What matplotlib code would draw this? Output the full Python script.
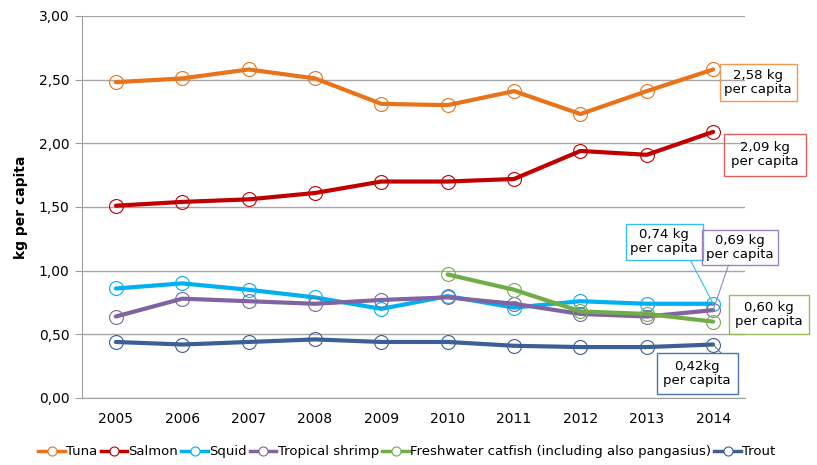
import matplotlib
matplotlib.use("Agg")
import matplotlib.pyplot as plt
from matplotlib.lines import Line2D

years = [2005, 2006, 2007, 2008, 2009, 2010, 2011, 2012, 2013, 2014]
tuna = [2.48, 2.51, 2.58, 2.51, 2.31, 2.30, 2.41, 2.23, 2.41, 2.58]
salmon = [1.51, 1.54, 1.56, 1.61, 1.70, 1.70, 1.72, 1.94, 1.91, 2.09]
squid = [0.86, 0.90, 0.85, 0.79, 0.70, 0.80, 0.71, 0.76, 0.74, 0.74]
shrimp = [0.64, 0.78, 0.76, 0.74, 0.77, 0.79, 0.74, 0.66, 0.64, 0.69]
catfish_years = [2010, 2011, 2012, 2013, 2014]
catfish = [0.97, 0.85, 0.68, 0.66, 0.60]
trout = [0.44, 0.42, 0.44, 0.46, 0.44, 0.44, 0.41, 0.40, 0.40, 0.42]

names = ["Tuna", "Salmon", "Squid", "Tropical shrimp",
         "Freshwater catfish (including also pangasius)", "Trout"]
colors = ["#E8731A", "#C00000", "#00B0F0", "#8064A2", "#70AD47", "#3C5F94"]
box_edges = ["#F09A50", "#E06060", "#33C0F0", "#9C84BE", "#9BBB59", "#4F74A8"]
labels = ["2,58 kg\nper capita", "2,09 kg\nper capita", "0,74 kg\nper capita",
          "0,69 kg\nper capita", "0,60 kg\nper capita", "0,42kg\nper capita"]

plt.rcParams['font.family'] = ['DejaVu Sans']

fig = plt.figure(figsize=(8.17, 4.65), dpi=100)
ax = fig.add_axes([0.1004, 0.1441, 0.8115, 0.8215])

series = [(years, tuna), (years, salmon), (years, squid), (years, shrimp),
          (catfish_years, catfish), (years, trout)]
for (xs, ys), c, n in zip(series, colors, names):
    ax.plot(xs, ys, color=c, lw=3.0, marker='o', ms=10, mfc='none',
            mec=c, mew=0.8, label=n, solid_capstyle='round', zorder=3)

ax.set_xlim(2004.49, 2014.48)
ax.set_ylim(0, 3.0)
yt = [0, 0.5, 1.0, 1.5, 2.0, 2.5, 3.0]
ax.set_yticks(yt)
ax.set_yticklabels([f"{v:.2f}".replace('.', ',') for v in yt])
ax.set_xticks(years)
ax.set_xticklabels([str(y) for y in years])
ax.tick_params(axis='y', length=5, color='#A0A0A0', labelsize=10, pad=4)
ax.tick_params(axis='x', length=0, labelsize=10, pad=10)
ax.grid(axis='y', color='#A6A6A6', lw=1)
ax.set_axisbelow(True)
for s in ['top', 'right']:
    ax.spines[s].set_visible(False)
for s in ['left', 'bottom']:
    ax.spines[s].set_color('#A0A0A0')
ax.set_ylabel("kg per capita", fontsize=10, fontweight='bold', labelpad=8)

# annotations (last point of each series)
last_pts = [(years[-1], tuna[-1]), (years[-1], salmon[-1]), (years[-1], squid[-1]),
            (years[-1], shrimp[-1]), (catfish_years[-1], catfish[-1]), (years[-1], trout[-1])]
offsets = [(45, -13), (52, -23), (-49, 62), (27, 63), (56, 7), (-16, -29)]
pads = [0.35, 0.55, 0.35, 0.3, 0.45, 0.5]
leaders = [None, None, (0.85, 0.0), (0.35, 0.0), None, (0.95, 1.0)]
for pt, off, lab, ec, pad, rel in zip(last_pts, offsets, labels, box_edges, pads, leaders):
    kw = {}
    if rel is not None:
        kw['arrowprops'] = dict(arrowstyle='-', color=ec, lw=0.8, relpos=rel,
                                shrinkA=0, shrinkB=0)
    ax.annotate(lab, xy=pt, xytext=off, textcoords='offset pixels',
                ha='center', va='center', fontsize=9.5, linespacing=1.1,
                bbox=dict(boxstyle=f'square,pad={pad}', fc='none', ec=ec, lw=1),
                annotation_clip=False, zorder=5, **kw)

handles = [Line2D([], [], color=c, lw=2.5, marker='o', ms=6.5, mfc='white', mec=c, mew=0.8)
           for c in colors]
fig.legend(handles, names, loc='center', bbox_to_anchor=(0.498, 0.028), ncol=6,
           frameon=False, fontsize=9.5, handlelength=2.0, handletextpad=0.1,
           columnspacing=0.25, borderaxespad=0)

fig.savefig("out.png", dpi=100)
